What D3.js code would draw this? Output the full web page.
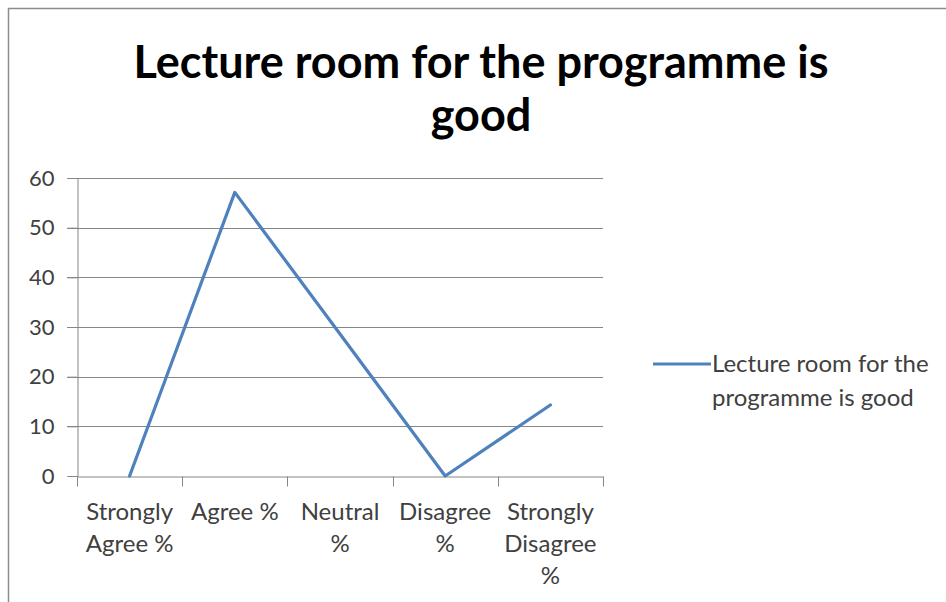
<!DOCTYPE html>
<html>
<head>
<meta charset="utf-8">
<script src="https://cdn.jsdelivr.net/npm/d3@7"></script>
<style>
  html, body { margin: 0; padding: 0; background: #fff; }
  svg { display: block; }
</style>
</head>
<body>
<svg id="chart" width="946" height="602"></svg>
<script>
const titleLines = ["Lecture room for the programme is", "good"];
const categories = ["Strongly Agree %", "Agree %", "Neutral %", "Disagree %", "Strongly Disagree %"];
const tickLabelLines = [["Strongly", "Agree %"], ["Agree %"], ["Neutral", "%"], ["Disagree", "%"], ["Strongly", "Disagree", "%"]];
const seriesName = "Lecture room for the programme is good";
const legendLines = ["Lecture room for the", "programme is good"];
const values = [0, 57.1, 28.6, 0, 14.3];
const yTicks = [0, 10, 20, 30, 40, 50, 60];

const svg = d3.select("#chart");
const font = "Lato, 'Liberation Sans', Arial, sans-serif";

svg.append("rect").attr("width", 946).attr("height", 602).attr("fill", "#fff");
svg.append("rect").attr("x", 8.5).attr("y", 8.5).attr("width", 1000).attr("height", 1000)
  .attr("fill", "none").attr("stroke", "#8c8c8c").attr("stroke-width", 1.5);

// Title
svg.append("g").selectAll("text").data(titleLines).join("text")
  .attr("x", 481).attr("y", (d, i) => 78 + i * 53)
  .attr("text-anchor", "middle")
  .attr("font-family", font).attr("font-weight", "bold").attr("font-size", 45)
  .attr("fill", "#000")
  .text(d => d);

const x = d3.scaleBand().domain(categories).range([77, 603]).padding(0);
const y = d3.scaleLinear().domain([0, 60]).range([476, 178]);

// gridlines
svg.append("g").selectAll("line").data(yTicks.filter(t => t > 0)).join("line")
  .attr("x1", 67).attr("x2", 603)
  .attr("y1", d => Math.round(y(d)) + 0.5).attr("y2", d => Math.round(y(d)) + 0.5)
  .attr("stroke", "#868686").attr("stroke-width", 1);

// y axis
const yAxis = d3.axisLeft(y).tickValues(yTicks).tickSize(10).tickPadding(13);
const gy = svg.append("g").attr("transform", "translate(77.5,0)").call(yAxis);
gy.select(".domain").attr("stroke", "#868686");
gy.selectAll(".tick line").attr("stroke", "#868686");
gy.selectAll(".tick text").attr("font-family", font).attr("font-size", 22).attr("fill", "#404040");

// x axis
const xAxis = d3.axisBottom(x).tickSize(0).tickFormat("");
const gx = svg.append("g").attr("transform", "translate(0,476.5)").call(xAxis);
gx.select(".domain").attr("stroke", "#868686");
gx.selectAll(".tick").remove();
const bounds = categories.map(c => x(c)).concat([x.range()[1]]);
gx.selectAll("line.tk").data(bounds).join("line").attr("class", "tk")
  .attr("x1", d => Math.round(d) + 0.5).attr("x2", d => Math.round(d) + 0.5)
  .attr("y1", 0).attr("y2", 10).attr("stroke", "#868686");

const lbl = svg.append("g");
categories.forEach((c, i) => {
  const t = lbl.append("text")
    .attr("x", x(c) + x.bandwidth() / 2)
    .attr("text-anchor", "middle")
    .attr("font-family", font).attr("font-size", 24).attr("fill", "#404040");
  tickLabelLines[i].forEach((ln, j) => {
    t.append("tspan").attr("x", x(c) + x.bandwidth() / 2).attr("y", 520 + j * 32).text(ln);
  });
});

// line
const line = d3.line().x((d, i) => x(categories[i]) + x.bandwidth() / 2).y(d => y(d));
svg.append("path").datum(values).attr("d", line)
  .attr("fill", "none").attr("stroke", "#4f81bd").attr("stroke-width", 3.2)
  .attr("stroke-linejoin", "round").attr("stroke-linecap", "round");

// legend
const lg = svg.append("g");
lg.append("line").attr("x1", 653).attr("x2", 711).attr("y1", 364).attr("y2", 364)
  .attr("stroke", "#4f81bd").attr("stroke-width", 3.2);
lg.selectAll("text").data(legendLines).join("text")
  .attr("x", 712).attr("y", (d, i) => 372 + i * 34)
  .attr("font-family", font).attr("font-size", 24).attr("fill", "#404040")
  .text(d => d);
</script>
</body>
</html>
